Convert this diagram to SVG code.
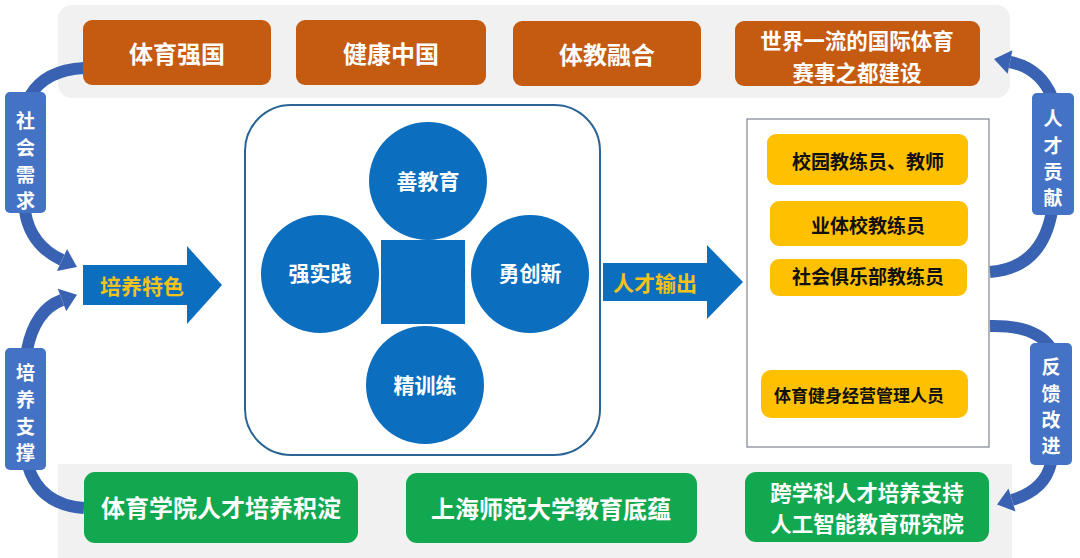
<svg xmlns="http://www.w3.org/2000/svg" width="1080" height="558" viewBox="0 0 1080 558">
<style>
.t{font-family:"Noto Sans CJK SC","Noto Sans",sans-serif;font-weight:700;text-anchor:middle;dominant-baseline:central}
.w{fill:#ffffff}
.k{fill:#111111}
.y{fill:#f2c21b}
.band{fill:#f1f1f1}
.or{fill:#c55a11}
.gr{fill:#12a84f}
.ye{fill:#ffc000}
.ci{fill:#0b6ebf}
.lb{fill:#4472c4}
.arc{fill:none;stroke:#3a62b2;stroke-width:12}
.ah{fill:#3a62b2}
.big{fill:#0b6ebf}
</style>
<rect width="1080" height="558" fill="#ffffff"/>
<rect class="band" x="58" y="5" width="952" height="93" rx="14"/>
<rect class="band" x="58" y="464" width="954" height="94" rx="0"/>

<g id="connectors">
  <path class="arc" d="M84 68 Q45 70 30 96"/>
  <path class="arc" d="M25 211 Q30 245 62 260"/>
  <polygon class="ah" points="77,267 56.9,270.9 67.1,249.1"/>
  <path class="arc" d="M84 508 Q40 505 28 466"/>
  <path class="arc" d="M27 350 Q35 310 62 300"/>
  <polygon class="ah" points="77,294.8 66.2,311.3 57.8,288.7"/>
  <path class="arc" d="M990 272 Q1042 268 1052 211"/>
  <path class="arc" d="M1052 97 Q1040 68 1010 62"/>
  <polygon class="ah" points="994,59 1012.4,50.2 1007.6,73.8"/>
  <path class="arc" d="M990 326 Q1035 325 1050 347"/>
  <path class="arc" d="M1051 463 Q1045 490 1012 500"/>
  <polygon class="ah" points="997,504.5 1015.5,511.5 1008.5,488.5"/>
  <polygon id="arrow-peiyang" class="big" points="83,265 187,265 187,246 222,285 187,324 187,305 83,305"/>
  <polygon id="arrow-shuchu" class="big" points="603,263 707,263 707,245 743,282 707,319 707,301 603,301"/>
  <text class="t y" x="142" y="285" font-size="21">培养特色</text>
  <text class="t y" x="655" y="282" font-size="21">人才输出</text>
</g>

<g id="top1"><rect class="or" x="83" y="20" width="188" height="65" rx="9"/><text class="t w" x="177" y="52" font-size="24">体育强国</text></g>
<g id="top2"><rect class="or" x="296" y="20" width="190" height="65" rx="9"/><text class="t w" x="391" y="52" font-size="24">健康中国</text></g>
<g id="top3"><rect class="or" x="513" y="21" width="188" height="65" rx="9"/><text class="t w" x="607" y="53" font-size="24">体教融合</text></g>
<g id="top4"><rect class="or" x="735" y="21" width="245" height="65" rx="9"/><text class="t w" x="857" y="39.5" font-size="21.5">世界一流的国际体育</text><text class="t w" x="857" y="71" font-size="21.5">赛事之都建设</text></g>

<g id="label-shehui"><rect class="lb" x="5" y="92" width="41" height="121" rx="5"/><text class="t w" font-size="19"><tspan x="25.5" y="119">社</tspan><tspan x="25.5" y="146">会</tspan><tspan x="25.5" y="173">需</tspan><tspan x="25.5" y="199">求</tspan></text></g>
<g id="label-peiyang"><rect class="lb" x="5" y="348" width="41" height="122" rx="5"/><text class="t w" font-size="19"><tspan x="25.5" y="371">培</tspan><tspan x="25.5" y="398">养</tspan><tspan x="25.5" y="425">支</tspan><tspan x="25.5" y="451">撑</tspan></text></g>
<g id="label-gongxian"><rect class="lb" x="1032" y="93" width="42" height="122" rx="5"/><text class="t w" font-size="19"><tspan x="1053" y="117">人</tspan><tspan x="1053" y="144">才</tspan><tspan x="1053" y="170">贡</tspan><tspan x="1053" y="196">献</tspan></text></g>
<g id="label-fankui"><rect class="lb" x="1030" y="343" width="42" height="122" rx="5"/><text class="t w" font-size="19"><tspan x="1051" y="365">反</tspan><tspan x="1051" y="392">馈</tspan><tspan x="1051" y="418">改</tspan><tspan x="1051" y="444">进</tspan></text></g>

<g id="center">
  <rect x="245" y="105" width="355" height="350" rx="46" fill="#ffffff" stroke="#2a6496" stroke-width="2"/>
  <rect class="ci" x="381" y="240" width="84" height="84"/>
  <g id="c-top"><circle class="ci" cx="428" cy="181" r="59"/><text class="t w" x="428" y="180" font-size="21">善教育</text></g>
  <g id="c-left"><circle class="ci" cx="320" cy="274" r="59"/><text class="t w" x="320" y="272" font-size="21">强实践</text></g>
  <g id="c-right"><circle class="ci" cx="530" cy="274" r="59"/><text class="t w" x="530" y="272" font-size="21">勇创新</text></g>
  <g id="c-bottom"><circle class="ci" cx="425" cy="385" r="59"/><text class="t w" x="425" y="384" font-size="21">精训练</text></g>
</g>

<g id="output">
  <rect x="747" y="119" width="242" height="328" fill="#ffffff" stroke="#7f8590" stroke-width="1.2"/>
  <g id="o1"><rect class="ye" x="767" y="134" width="201" height="51" rx="9"/><text class="t k" x="868" y="160" font-size="19">校园教练员、教师</text></g>
  <g id="o2"><rect class="ye" x="770" y="201" width="198" height="45" rx="9"/><text class="t k" x="868" y="224" font-size="19">业体校教练员</text></g>
  <g id="o3"><rect class="ye" x="770" y="259" width="197" height="37" rx="9"/><text class="t k" x="868" y="275" font-size="19">社会俱乐部教练员</text></g>
  <g id="o4"><rect class="ye" x="761" y="370" width="207" height="48" rx="10"/><text class="t k" x="859" y="394" font-size="17">体育健身经营管理人员</text></g>
</g>

<g id="bot1"><rect class="gr" x="84" y="472" width="274" height="71" rx="11"/><text class="t w" x="221" y="506" font-size="24">体育学院人才培养积淀</text></g>
<g id="bot2"><rect class="gr" x="406" y="473" width="291" height="70" rx="11"/><text class="t w" x="551" y="507" font-size="24">上海师范大学教育底蕴</text></g>
<g id="bot3"><rect class="gr" x="745" y="472" width="244" height="70" rx="11"/><text class="t w" x="867" y="491" font-size="21.5">跨学科人才培养支持</text><text class="t w" x="867" y="522.5" font-size="21.5">人工智能教育研究院</text></g>
</svg>
